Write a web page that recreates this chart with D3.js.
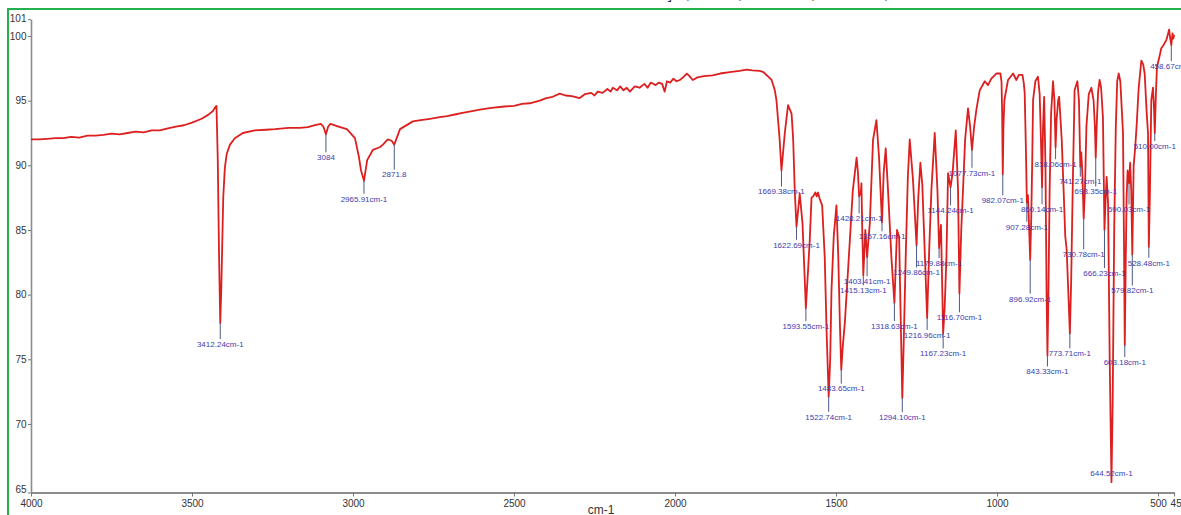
<!DOCTYPE html>
<html>
<head>
<meta charset="utf-8">
<script src="https://cdn.jsdelivr.net/npm/d3@7"></script>
<style>
  html, body { margin: 0; padding: 0; background: #ffffff; }
  svg { display: block; }
  text { font-family: Arial, "Liberation Sans", sans-serif; }
</style>
</head>
<body>
<svg id="chart" width="1181" height="515"></svg>
<script>
// IR spectrum: wavenumber (cm-1) and transmittance (%T)
const wavenumber = [
  4000, 3975, 3950, 3925, 3900, 3875, 3850, 3825, 3800, 3775, 3750, 3725, 3700, 3675, 3650, 3625,
  3600, 3575, 3550, 3525, 3500, 3470, 3450, 3435, 3428, 3424,
  3420, 3416, 3412.24, 3409, 3406, 3403, 3398, 3392, 3382, 3367, 3342, 3305, 3270, 3242, 3200, 3165,
  3140, 3118, 3100,
  3092, 3084, 3077, 3070, 3045, 3019, 2994, 2982, 2975, 2965.91, 2956, 2938, 2917, 2907, 2892, 2880,
  2871.8, 2854, 2814, 2790, 2761, 2735, 2708, 2680, 2660, 2630, 2606, 2570, 2530, 2500, 2475, 2451,
  2420, 2400, 2380, 2358, 2340, 2320, 2296,
  2280, 2260, 2250, 2240, 2225, 2210, 2200, 2193, 2180, 2170, 2160, 2150, 2140, 2125, 2110, 2095,
  2085, 2075, 2060, 2050, 2040, 2032, 2025, 2015, 2005, 1995, 1985, 1975, 1963, 1955, 1945, 1930,
  1910, 1883, 1860, 1830, 1800, 1777, 1760, 1737, 1725, 1712, 1700, 1690, 1685, 1675, 1669.38, 1659,
  1649, 1638, 1633, 1628, 1622.69, 1612.6, 1604, 1593.55, 1581.5, 1576, 1571, 1564, 1560, 1556, 1550.5, 1543,
  1535, 1529, 1522.74, 1518, 1514, 1507, 1498.6, 1493, 1488, 1483.65, 1479, 1472.6, 1457, 1448, 1436, 1432,
  1428.21, 1423, 1421, 1418.5, 1415.13, 1409, 1403.41, 1400, 1395, 1385, 1374.5, 1366.5, 1357.16, 1352, 1345.6, 1338.5,
  1328, 1318.63, 1310.5, 1304, 1300.5, 1294.10, 1290, 1283.5, 1277, 1271, 1261, 1249.86, 1244.5, 1238, 1232, 1227.6,
  1216.96, 1210.5, 1203.7, 1193.4, 1185, 1179.88, 1174, 1167.23, 1162.5, 1157, 1152, 1144.24, 1138, 1128, 1121, 1116.70,
  1111, 1105.6, 1099, 1090, 1083.5, 1077.73, 1071, 1064, 1053.7, 1038, 1028, 1017.5, 1002, 989.5, 986, 984,
  982.07, 980, 977, 965.8, 950, 940, 932, 921, 917, 914, 910, 907.28, 904, 900, 896.92, 893.6,
  890.5, 888, 881, 872.7, 867.5, 863.5, 860.14, 857, 853.6, 849.5, 846, 843.33, 840.3, 836.6, 832, 826,
  821.6, 818.06, 815, 810, 807, 799, 793, 788, 783.7, 779, 773.71, 769.7, 765, 759, 750.4, 745.5,
  741.27, 738.3, 735.1, 730.78, 727, 722.3, 715, 706.9, 700, 696, 693.35, 689.7, 686, 681.3, 676.7, 671,
  666.23, 662.5, 659.5, 655, 650, 644.52, 640.6, 636, 631, 626.7, 622, 617, 612.8, 608.7, 605.6, 603.18,
  600.5, 597.5, 594.3, 590.03, 586.5, 583, 579.82, 575.6, 571, 566.3, 560, 551.7, 546, 541.4, 535, 531,
  528.48, 525, 520.8, 515.6, 512.5, 510.00, 506.5, 503.3, 496.5, 489.7, 482.6, 474, 468.5, 465.4, 462, 458.67,
  455, 452.3, 450
];
const transmittance = [
  92.0, 92.0, 92.05, 92.1, 92.1, 92.2, 92.15, 92.3, 92.3, 92.35, 92.45, 92.4, 92.5, 92.6, 92.55, 92.7,
  92.7, 92.85, 93.0, 93.1, 93.3, 93.6, 93.9, 94.2, 94.5, 94.6,
  90.5, 83.0, 77.8, 80.5, 84.0, 87.5, 89.8, 90.9, 91.6, 92.1, 92.5, 92.7, 92.75, 92.8, 92.9, 92.9,
  92.95, 93.1, 93.2,
  93.0, 92.4, 93.0, 93.2, 93.0, 92.8, 92.1, 90.7, 89.6, 88.8, 90.4, 91.2, 91.4, 91.6, 92.0, 91.9,
  91.6, 92.8, 93.4, 93.5, 93.6, 93.7, 93.8, 93.95, 94.05, 94.2, 94.3, 94.45, 94.55, 94.6, 94.75, 94.8,
  95.0, 95.2, 95.3, 95.55, 95.4, 95.35, 95.2,
  95.5, 95.6, 95.4, 95.7, 95.6, 95.9, 95.7, 96.0, 95.8, 96.1, 95.8, 96.0, 95.7, 96.1, 96.0, 96.3,
  96.0, 96.4, 96.2, 96.4, 96.3, 95.7, 96.5, 96.4, 96.7, 96.5, 96.6, 96.8, 97.1, 96.9, 96.6, 96.8,
  96.9, 96.95, 97.1, 97.2, 97.3, 97.4, 97.35, 97.3, 97.2, 96.9, 96.6, 95.8, 95.05, 92.0, 89.6, 92.5,
  94.66, 94.0, 92.0, 88.0, 85.25, 87.8, 85.5, 78.96, 84.2, 87.5, 87.6, 87.9, 87.6, 87.9, 87.4, 86.9,
  82.9, 77.0, 72.1, 75.0, 80.35, 84.5, 86.9, 83.0, 77.8, 74.2, 76.0, 77.8, 84.2, 88.0, 90.6, 89.5,
  87.6, 87.9, 88.6, 85.0, 81.5, 85.0, 82.9, 84.0, 85.5, 91.96, 93.5, 90.7, 85.6, 89.4, 91.3, 88.1,
  82.9, 79.35, 85.0, 84.5, 80.0, 72.0, 76.0, 82.9, 89.0, 92.0, 88.9, 83.8, 87.5, 90.2, 88.5, 85.5,
  78.2, 83.5, 88.1, 92.5, 88.1, 83.6, 85.4, 77.0, 79.0, 82.9, 89.4, 88.3, 89.4, 92.7, 88.1, 80.1,
  85.0, 88.1, 92.0, 94.4, 93.0, 91.2, 93.0, 94.3, 95.8, 96.5, 96.2, 96.7, 97.1, 97.1, 96.5, 94.0,
  89.3, 93.0, 95.05, 96.6, 97.1, 96.6, 97.0, 97.0, 96.4, 95.6, 91.0, 87.1, 87.7, 85.0, 82.7, 86.0,
  90.5, 95.05, 96.5, 96.85, 95.5, 92.0, 88.3, 93.0, 95.3, 90.0, 80.0, 75.3, 80.0, 88.0, 94.0, 96.5,
  95.0, 91.4, 93.5, 95.05, 95.3, 92.0, 88.0, 84.5, 83.5, 80.5, 77.0, 81.0, 88.0, 95.8, 96.5, 95.0,
  89.9, 91.0, 89.5, 85.9, 88.0, 93.0, 95.5, 96.0, 95.0, 93.0, 90.6, 93.5, 95.7, 96.6, 96.0, 93.7,
  85.0, 87.5, 89.1, 87.0, 75.0, 65.5, 72.0, 85.0, 93.0, 96.5, 97.1, 96.5, 94.5, 92.5, 84.0, 76.1,
  82.0, 87.5, 89.6, 88.6, 90.2, 88.0, 83.1, 90.0, 91.3, 93.1, 96.0, 98.1, 97.8, 97.1, 94.0, 92.5,
  83.7, 88.0, 95.05, 96.0, 94.5, 92.5, 95.5, 97.6, 98.3, 99.05, 99.3, 99.7, 100.2, 100.5, 99.8, 99.3,
  100.2, 99.8, 100.1
];

// Annotated absorption bands
const peakWavenumbers = [
  3412.24, 3084, 2965.91, 2871.8, 1669.38, 1622.69, 1593.55, 1522.74, 1483.65, 1428.21,
  1415.13, 1403.41, 1357.16, 1318.63, 1294.10, 1249.86, 1216.96, 1179.88, 1167.23, 1144.24,
  1116.70, 1077.73, 982.07, 907.28, 896.92, 860.14, 843.33, 818.06, 773.71, 741.27,
  730.78, 693.35, 666.23, 644.52, 603.18, 590.03, 579.82, 528.48, 510.00, 458.67
];
const peakLabels = [
  "3412.24cm-1", "3084", "2965.91cm-1", "2871.8", "1669.38cm-1", "1622.69cm-1", "1593.55cm-1",
  "1522.74cm-1", "1483.65cm-1", "1428.21cm-1", "1415.13cm-1", "1403.41cm-1", "1357.16cm-1",
  "1318.63cm-1", "1294.10cm-1", "1249.86cm-1", "1216.96cm-1", "1179.88cm-1", "1167.23cm-1",
  "1144.24cm-1", "1116.70cm-1", "1077.73cm-1", "982.07cm-1", "907.28cm-1", "896.92cm-1",
  "860.14cm-1", "843.33cm-1", "818.06cm-1", "773.71cm-1", "741.27cm-1", "730.78cm-1",
  "693.35cm-1", "666.23cm-1", "644.52cm-1", "603.18cm-1", "590.03cm-1", "579.82cm-1",
  "528.48cm-1", "510.00cm-1", "458.67cm-1"
];

// Axis ticks
const xTicks = [4000, 3500, 3000, 2500, 2000, 1500, 1000, 500, 450];
const yTicks = [64.7, 70, 75, 80, 85, 90, 95, 100, 101.3];

// Layout: how far (px) each band label sits below its band minimum
const labelDrop = [
  21, 23, 18, 30, 21, 18, 18, 20, 19, 22,
  15, 24, 14, 23, 19, 27, 17, 15, 20, 23,
  24, 23, 26, 24, 39, 22, 16, 17, 20, 15,
  36, 34, 43, -9, 17, 26, 36, 16, 13, 21
];

const svg = d3.select("#chart");
const W = 1181, H = 515;
const plotLeft = 31, plotRight = 1174.1, plotTop = 19.2, plotBottom = 492.5;

const x = d3.scaleLinear().domain([4000, 450]).range([plotLeft, plotRight]);
const y = d3.scaleLinear().domain([yTicks[0], yTicks[yTicks.length - 1]]).range([plotBottom, plotTop]);

// frame
svg.append("rect")
  .attr("x", 8).attr("y", 9).attr("width", W + 10).attr("height", H + 10)
  .attr("fill", "none").attr("stroke", "#22b14c").attr("stroke-width", 2);

// title fragments cut by the window edge
const titleBits = [["]", 668], [",", 686], [",", 738], [",", 811], [",", 884]];
svg.append("g").selectAll("text").data(titleBits).join("text")
  .attr("x", d => d[1]).attr("y", -1.5)
  .attr("font-size", 14).attr("fill", "#222")
  .text(d => d[0]);

// axes
const xAxis = d3.axisBottom(x).tickValues(xTicks).tickFormat(d3.format("d"))
  .tickSizeInner(4).tickSizeOuter(0);
const yAxis = d3.axisLeft(y).tickValues(yTicks).tickFormat(d3.format(".0f"))
  .tickSizeInner(3).tickSizeOuter(0);

const gx = svg.append("g").attr("transform", `translate(0,${plotBottom})`).call(xAxis);
gx.select(".domain").attr("stroke", "#8c8c8c").attr("stroke-width", 2.2);
gx.selectAll(".tick line").attr("stroke", "#777");
gx.selectAll(".tick text").attr("font-size", 10).attr("fill", "#333")
  .attr("font-family", "Arial, 'Liberation Sans', sans-serif");
// the last two ticks are close together: start the final label at its tick
gx.selectAll(".tick").filter(d => d === xTicks[xTicks.length - 1]).select("text")
  .attr("text-anchor", "start").attr("dx", "-0.4em");

const gy = svg.append("g").attr("transform", `translate(${plotLeft},0)`).call(yAxis);
gy.select(".domain").attr("stroke", "#8c8c8c").attr("stroke-width", 1.6);
gy.selectAll(".tick line").attr("stroke", "#777");
gy.selectAll(".tick text").attr("font-size", 10).attr("fill", "#333").attr("dx", "0.15em")
  .attr("font-family", "Arial, 'Liberation Sans', sans-serif");
// end labels sit on the axis ends
gy.selectAll(".tick").filter(d => d === yTicks[0]).select("text").attr("dy", "-0.05em");
gy.selectAll(".tick").filter(d => d === yTicks[yTicks.length - 1]).select("text").attr("dy", "0.2em");

svg.append("text")
  .attr("x", 601).attr("y", 514).attr("text-anchor", "middle")
  .attr("font-size", 12).attr("fill", "#333").text("cm-1");

// spectrum
const points = wavenumber.map((w, i) => ({ w, t: transmittance[i] }));
const line = d3.line().x(d => x(d.w)).y(d => y(d.t));
svg.append("path")
  .datum(points)
  .attr("fill", "none")
  .attr("stroke", "#dc1f1f")
  .attr("stroke-width", 1.8)
  .attr("stroke-linejoin", "round")
  .attr("d", line);

// band labels with leader lines
const peaks = peakWavenumbers.map((w, i) => {
  const idx = wavenumber.indexOf(w);
  return { w, t: transmittance[idx], label: peakLabels[i], drop: labelDrop[i] };
});
const gp = svg.append("g");
peaks.forEach(p => {
  const px = x(p.w), py = y(p.t);
  const ly = py + p.drop;
  if (p.drop > 6) {
    gp.append("line")
      .attr("x1", px).attr("x2", px)
      .attr("y1", py).attr("y2", ly - 5)
      .attr("stroke", "#4a5a86").attr("stroke-width", 1);
  }
  gp.append("text")
    .attr("x", px).attr("y", ly)
    .attr("dy", "0.35em")
    .attr("text-anchor", "middle")
    .attr("font-size", 8)
    .attr("fill", "#3c3cae")
    .text(p.label);
});
</script>
</body>
</html>
